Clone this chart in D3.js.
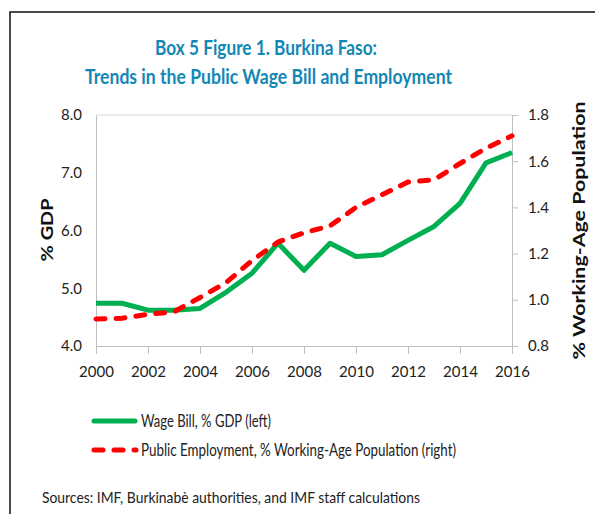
<!DOCTYPE html>
<html>
<head>
<meta charset="utf-8">
<script src="https://cdn.jsdelivr.net/npm/d3@7"></script>
<style>
  body { margin: 0; background: #fff; }
  text { font-family: Lato, "Open Sans", sans-serif; }
  .axis path, .axis line { stroke: #bfbfbf; }
  .axis text { fill: #222; font-size: 15px; font-family: Lato, sans-serif; }
</style>
</head>
<body>
<div id="chart"></div>
<script>
const W = 595, H = 514;
const MARGIN = { LEFT: 96, RIGHT: 83, TOP: 115, BOTTOM: 168 };
const WIDTH = W - MARGIN.LEFT - MARGIN.RIGHT;
const HEIGHT = H - MARGIN.TOP - MARGIN.BOTTOM;

// data
const years = [2000, 2001, 2002, 2003, 2004, 2005, 2006, 2007, 2008,
  2009, 2010, 2011, 2012, 2013, 2014, 2015, 2016];
const wageBill = [4.74, 4.74, 4.62, 4.62, 4.65, 4.93, 5.26, 5.78, 5.31,
  5.78, 5.55, 5.58, 5.83, 6.07, 6.47, 7.17, 7.35];
const publicEmployment = [0.917, 0.92, 0.937, 0.948, 1.01, 1.074, 1.17, 1.25, 1.29,
  1.32, 1.40, 1.455, 1.51, 1.52, 1.59, 1.656, 1.71];
const xTicks = [2000, 2002, 2004, 2006, 2008, 2010, 2012, 2014, 2016];
const leftTicks = [4, 5, 6, 7, 8];
const rightTicks = [0.8, 1.0, 1.2, 1.4, 1.6, 1.8];

const svg = d3
  .select("#chart")
  .append("svg")
  .attr("width", W)
  .attr("height", H);

// box frame (top + left edge only)
svg
  .append("path")
  .attr("d", `M10,${H} L10,12 L${W},12`)
  .attr("fill", "none")
  .attr("stroke", "#111")
  .attr("stroke-width", 1.5);

// title
const title = svg
  .append("g")
  .attr("fill", "#1387b5")
  .attr("font-weight", "bold")
  .attr("font-size", "20px");
title.append("text").attr("x", 155).attr("y", 55)
  .attr("textLength", 222).attr("lengthAdjust", "spacingAndGlyphs")
  .text("Box 5 Figure 1. Burkina Faso:");
title.append("text").attr("x", 85).attr("y", 84)
  .attr("textLength", 367).attr("lengthAdjust", "spacingAndGlyphs")
  .text("Trends in the Public Wage Bill and Employment");

const g = svg
  .append("g")
  .attr("transform", `translate(${MARGIN.LEFT}, ${MARGIN.TOP})`);

// scales
const x = d3.scaleLinear().domain([2000, 2016]).range([0, WIDTH]);
const yLeft = d3.scaleLinear().domain([4, 8]).range([HEIGHT, 0]);
const yRight = d3.scaleLinear().domain([0.8, 1.8]).range([HEIGHT, 0]);

// plot area top border
g.append("line")
  .attr("x1", 0).attr("x2", WIDTH)
  .attr("y1", 0).attr("y2", 0)
  .attr("stroke", "#d9d9d9");

// axes
const xAxis = g
  .append("g")
  .attr("class", "x axis")
  .attr("transform", `translate(0, ${HEIGHT})`)
  .call(d3.axisBottom(x).tickValues(xTicks).tickFormat(d3.format("d")).tickSize(8).tickSizeOuter(0));
xAxis.selectAll("text").attr("dy", "1.35em");

const yAxisLeft = g
  .append("g")
  .attr("class", "y axis")
  .call(d3.axisLeft(yLeft).tickValues(leftTicks).tickFormat(d3.format(".1f")).tickSize(0).tickPadding(14));

const yAxisRight = g
  .append("g")
  .attr("class", "y axis right")
  .attr("transform", `translate(${WIDTH}, 0)`)
  .call(d3.axisRight(yRight).tickValues(rightTicks).tickFormat(d3.format(".1f")).tickSize(6).tickPadding(10).tickSizeOuter(0));
yAxisRight.selectAll("path, line").attr("stroke", "#9a9a9a");

// axis titles
g.append("text")
  .attr("transform", "rotate(-90)")
  .attr("x", -HEIGHT / 2 - 31)
  .attr("y", -43)
  .attr("font-family", "DejaVu Sans")
  .attr("font-weight", "bold")
  .attr("font-size", "17px")
  .attr("fill", "#111")
  .attr("textLength", 63).attr("lengthAdjust", "spacingAndGlyphs")
  .text("% GDP");

g.append("text")
  .attr("transform", "rotate(-90)")
  .attr("x", -HEIGHT / 2 - 129)
  .attr("y", WIDTH + 73)
  .attr("font-family", "DejaVu Sans")
  .attr("font-weight", "bold")
  .attr("font-size", "17px")
  .attr("fill", "#111")
  .attr("textLength", 258).attr("lengthAdjust", "spacingAndGlyphs")
  .text("% Working-Age Population");

// lines
const wageLine = d3
  .line()
  .x((d, i) => x(years[i]))
  .y((d) => yLeft(d));
const empLine = d3
  .line()
  .x((d, i) => x(years[i]))
  .y((d) => yRight(d));

g.append("path")
  .attr("fill", "none")
  .attr("stroke", "#00b050")
  .attr("stroke-width", 5)
  .attr("stroke-linejoin", "round")
  .attr("d", wageLine(wageBill));

g.append("path")
  .attr("fill", "none")
  .attr("stroke", "#ff0000")
  .attr("stroke-width", 5)
  .attr("stroke-linecap", "round")
  .attr("stroke-dasharray", "9,11")
  .attr("d", empLine(publicEmployment));

// legend
const legend = svg.append("g");
legend.append("line")
  .attr("x1", 94).attr("x2", 135).attr("y1", 421).attr("y2", 421)
  .attr("stroke", "#00b050").attr("stroke-width", 5).attr("stroke-linecap", "round");
legend.append("text")
  .attr("x", 141).attr("y", 427)
  .attr("font-size", "17px").attr("fill", "#222")
  .attr("textLength", 130).attr("lengthAdjust", "spacingAndGlyphs")
  .text("Wage Bill, % GDP (left)");
legend.append("line")
  .attr("x1", 94).attr("x2", 136).attr("y1", 450).attr("y2", 450)
  .attr("stroke", "#ff0000").attr("stroke-width", 5).attr("stroke-linecap", "round")
  .attr("stroke-dasharray", "9,11");
legend.append("text")
  .attr("x", 141).attr("y", 456)
  .attr("font-size", "17px").attr("fill", "#222")
  .attr("textLength", 315).attr("lengthAdjust", "spacingAndGlyphs")
  .text("Public Employment, % Working-Age Population (right)");

// source note
svg.append("text")
  .attr("x", 42).attr("y", 503)
  .attr("font-size", "16px").attr("fill", "#222")
  .attr("textLength", 378).attr("lengthAdjust", "spacingAndGlyphs")
  .text("Sources: IMF, Burkinabè authorities, and IMF staff calculations");
</script>
</body>
</html>
